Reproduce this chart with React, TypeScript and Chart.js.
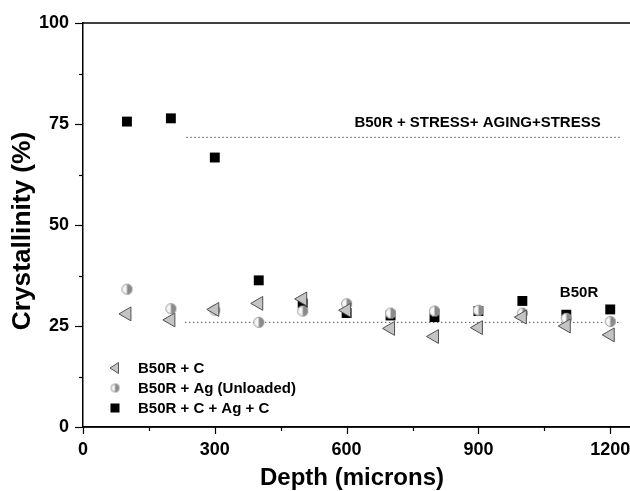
import React, { useEffect, useRef } from 'react';
import { Chart, registerables } from 'chart.js';

Chart.register(...registerables);

// ---- data ----
const depths = [100, 200, 300, 400, 500, 600, 700, 800, 900, 1000, 1100, 1200];
const b50rC = [28.0, 26.5, 29.1, 30.6, 31.7, 28.9, 24.4, 22.4, 24.6, 27.2, 25.0, 22.8];
const b50rAg = [34.1, 29.3, 28.9, 25.9, 28.7, 30.5, 28.2, 28.7, 28.9, 28.2, 26.9, 26.1];
const b50rCAgC = [75.6, 76.4, 66.7, 36.3, 30.6, 28.2, 27.6, 27.2, 28.7, 31.2, 27.8, 29.1];
const seriesLabels = ['B50R + C', 'B50R + Ag (Unloaded)', 'B50R + C + Ag + C'];

const upperRefX = [235, 1223];
const upperRefY = [71.7, 71.7];
const lowerRefX = [232, 1221];
const lowerRefY = [25.9, 25.9];

const annotationTexts = ['B50R + STRESS+ AGING+STRESS', 'B50R'];
const annotationX = [898, 1129];
const annotationY = [75.4, 33.2];

const xMajorTicks = [0, 300, 600, 900, 1200];
const xMinorTicks = [150, 450, 750, 1050];
const yMajorTicks = [0, 25, 50, 75, 100];
const yMinorTicks = [12.5, 37.5, 62.5, 87.5];

const xTitle = 'Depth (microns)';
const yTitle = 'Crystallinity (%)';

const FONT = '"Liberation Sans", Arial, sans-serif';
const CANVAS_W = 630;
const CANVAS_H = 491;

function makeHalfCircle(r: number): HTMLCanvasElement {
  const size = Math.ceil(r * 2 + 2);
  const c = document.createElement('canvas');
  c.width = size;
  c.height = size;
  const ctx = c.getContext('2d')!;
  const cx = size / 2;
  const cy = size / 2;
  ctx.beginPath();
  ctx.arc(cx, cy, r, 0, Math.PI * 2);
  ctx.fillStyle = '#f6f6f6';
  ctx.fill();
  ctx.beginPath();
  ctx.moveTo(cx, cy - r);
  ctx.arc(cx, cy, r, -Math.PI / 2, Math.PI / 2);
  ctx.closePath();
  ctx.fillStyle = '#8a8a8a';
  ctx.fill();
  ctx.beginPath();
  ctx.arc(cx, cy, r - 0.5, 0, Math.PI * 2);
  ctx.strokeStyle = '#999';
  ctx.lineWidth = 1;
  ctx.stroke();
  return c;
}

const toPts = (xs: number[], ys: number[]) => xs.map((x, i) => ({ x, y: ys[i] }));

export default function App() {
  const ref = useRef<HTMLCanvasElement | null>(null);

  useEffect(() => {
    if (!ref.current) return;
    const halfBig = makeHalfCircle(5.5);
    const halfSmall = makeHalfCircle(4.5);

    const stretch = {
      id: 'stretch',
      afterLayout(chart: any) {
        const x = chart.scales.x;
        const d = CANVAS_W - chart.chartArea.right;
        if (d > 0) {
          chart.chartArea.right = CANVAS_W;
          chart.chartArea.width += d;
          x.right = CANVAS_W;
          x.width += d;
          x.configure();
        }
      },
    };

    const decor = {
      id: 'decor',
      afterDraw(chart: any) {
        const ctx = chart.ctx;
        const area = chart.chartArea;
        const xs = chart.scales.x;
        const ys = chart.scales.y;
        ctx.save();
        // top frame
        ctx.strokeStyle = '#000';
        ctx.lineWidth = 1.5;
        ctx.beginPath();
        ctx.moveTo(area.left, area.top);
        ctx.lineTo(area.right, area.top);
        ctx.stroke();
        // bottom axis line (full width)
        ctx.beginPath();
        ctx.moveTo(area.left, area.bottom);
        ctx.lineTo(area.right, area.bottom);
        ctx.stroke();
        // ticks
        ctx.lineWidth = 1.2;
        const drawX = (v: number, len: number) => {
          const p = Math.round(xs.getPixelForValue(v)) + 0.5;
          ctx.beginPath();
          ctx.moveTo(p, area.bottom);
          ctx.lineTo(p, area.bottom + len);
          ctx.stroke();
        };
        const drawY = (v: number, len: number) => {
          const p = Math.round(ys.getPixelForValue(v)) + 0.5;
          ctx.beginPath();
          ctx.moveTo(area.left, p);
          ctx.lineTo(area.left - len, p);
          ctx.stroke();
        };
        xMajorTicks.forEach((v) => drawX(v, 7));
        xMinorTicks.forEach((v) => drawX(v, 4));
        yMajorTicks.forEach((v) => drawY(v, 8));
        yMinorTicks.forEach((v) => drawY(v, 4));

        // annotations
        ctx.fillStyle = '#000';
        ctx.font = `bold 15px ${FONT}`;
        ctx.textAlign = 'center';
        ctx.textBaseline = 'middle';
        annotationTexts.forEach((t, i) => {
          ctx.fillText(t, xs.getPixelForValue(annotationX[i]), ys.getPixelForValue(annotationY[i]));
        });

        // legend
        const lx = 115;
        const ly = [368, 388, 408];
        ctx.beginPath();
        ctx.moveTo(lx - 5, ly[0]);
        ctx.lineTo(lx + 3.5, ly[0] - 5.5);
        ctx.lineTo(lx + 3.5, ly[0] + 5.5);
        ctx.closePath();
        ctx.fillStyle = '#c4c4c4';
        ctx.fill();
        ctx.strokeStyle = '#555';
        ctx.lineWidth = 1;
        ctx.stroke();
        ctx.drawImage(halfSmall, lx - halfSmall.width / 2, ly[1] - halfSmall.height / 2);
        ctx.fillStyle = '#000';
        ctx.fillRect(lx - 4.5, ly[2] - 4.5, 9, 9);
        ctx.font = `bold 15px ${FONT}`;
        ctx.textAlign = 'left';
        ctx.textBaseline = 'middle';
        seriesLabels.forEach((t, i) => ctx.fillText(t, 138, ly[i] + 1));

        // axis titles
        ctx.textAlign = 'center';
        ctx.textBaseline = 'alphabetic';
        ctx.font = `bold 24px ${FONT}`;
        ctx.fillText(xTitle, 352, 485);
        ctx.save();
        ctx.font = `bold 25px ${FONT}`;
        ctx.translate(30, 231);
        ctx.rotate(-Math.PI / 2);
        ctx.scale(1.05, 1);
        ctx.fillText(yTitle, 0, 0);
        ctx.restore();
        ctx.restore();
      },
    };

    const chart = new Chart(ref.current, {
      type: 'scatter',
      data: {
        datasets: [
          {
            label: seriesLabels[0],
            data: toPts(depths, b50rC),
            pointStyle: 'triangle',
            rotation: -90,
            radius: 8,
            backgroundColor: '#c4c4c4',
            borderColor: '#505050',
            borderWidth: 1,
          },
          {
            label: seriesLabels[1],
            data: toPts(depths, b50rAg),
            pointStyle: halfBig,
            radius: 6,
          },
          {
            label: seriesLabels[2],
            data: toPts(depths, b50rCAgC),
            pointStyle: 'rect',
            radius: 7,
            backgroundColor: '#000',
            borderColor: '#000',
            borderWidth: 0,
          },
          {
            type: 'line',
            label: 'upper',
            data: toPts(upperRefX, upperRefY),
            borderColor: '#555',
            borderWidth: 1,
            borderDash: [1.5, 2.5],
            pointRadius: 0,
            showLine: true,
          } as any,
          {
            type: 'line',
            label: 'lower',
            data: toPts(lowerRefX, lowerRefY),
            borderColor: '#555',
            borderWidth: 1,
            borderDash: [1.5, 2.5],
            pointRadius: 0,
            showLine: true,
          } as any,
        ],
      },
      options: {
        responsive: false,
        animation: false,
        devicePixelRatio: 1,
        layout: { padding: { left: 0, right: 0, top: 23, bottom: 0 } },
        plugins: { legend: { display: false }, tooltip: { enabled: false } },
        scales: {
          x: {
            type: 'linear',
            min: 0,
            max: 1245,
            afterBuildTicks: (s: any) => {
              s.ticks = xMajorTicks.map((v) => ({ value: v }));
            },
            afterFit: (s: any) => {
              s.height = 64;
            },
            grid: { display: true, drawOnChartArea: false, drawTicks: true, tickLength: 7, color: 'rgba(0,0,0,0)' },
            border: { display: true, color: '#000', width: 1.5 },
            ticks: {
              autoSkip: false,
              maxRotation: 0,
              padding: 5,
              color: '#000',
              callback: (v: any) => String(v),
              font: { family: FONT, size: 18, weight: 'bold' },
            },
          },
          y: {
            type: 'linear',
            min: 0,
            max: 100,
            afterBuildTicks: (s: any) => {
              s.ticks = yMajorTicks.map((v) => ({ value: v }));
            },
            afterFit: (s: any) => {
              s.width = 83;
            },
            grid: { display: true, drawOnChartArea: false, drawTicks: true, tickLength: 8, color: 'rgba(0,0,0,0)' },
            border: { display: true, color: '#000', width: 1.5 },
            ticks: {
              autoSkip: false,
              padding: 6,
              color: '#000',
              callback: (v: any) => String(v),
              font: { family: FONT, size: 18, weight: 'bold' },
            },
          },
        },
      },
      plugins: [stretch, decor],
    });
    return () => chart.destroy();
  }, []);

  return (
    <div style={{ position: 'absolute', left: 0, top: 0, width: CANVAS_W, height: CANVAS_H, background: '#fff' }}>
      <canvas ref={ref} width={CANVAS_W} height={CANVAS_H} style={{ display: 'block' }} />
    </div>
  );
}
